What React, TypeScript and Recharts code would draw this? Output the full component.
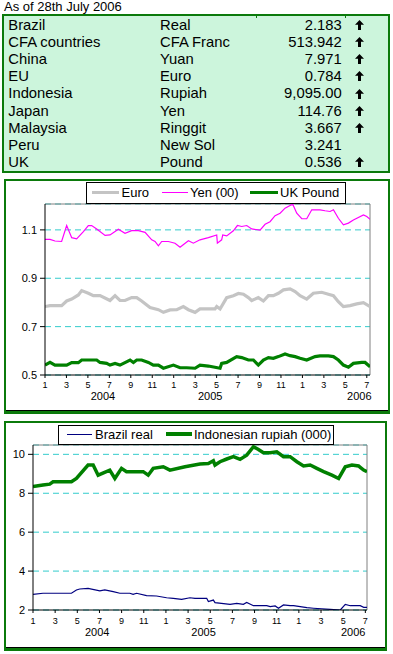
import React from 'react';
import { LineChart, Line, XAxis, YAxis, CartesianGrid, ReferenceLine } from 'recharts';

const FONT = '"Liberation Sans", Arial, Helvetica, sans-serif';
const GREEN_BORDER = '#0b7a0b';

// ---- Table data ----
const tableCountries = ['Brazil', 'CFA countries', 'China', 'EU', 'Indonesia', 'Japan', 'Malaysia', 'Peru', 'UK'];
const tableCurrencies = ['Real', 'CFA Franc', 'Yuan', 'Euro', 'Rupiah', 'Yen', 'Ringgit', 'New Sol', 'Pound'];
const tableRates = ['2.183', '513.942', '7.971', '0.784', '9,095.00', '114.76', '3.667', '3.241', '0.536'];
const tableUp = [true, true, true, true, true, true, true, false, true];

// ---- Axis ticks ----
const monthTicks = [0, 2, 4, 6, 8, 10, 12, 14, 16, 18, 20, 22, 24, 26, 28, 30];
const monthTickLabels = ['1', '3', '5', '7', '9', '11', '1', '3', '5', '7', '9', '11', '1', '3', '5', '7'];
const yearLabels = ['2004', '2005', '2006'];
const yearTicksTop = [5.4, 15.4, 29.3];
const yearTicksBottom = [5.8, 15.4, 28.9];
const topYTicks = [0.5, 0.7, 0.9, 1.1];
const bottomYTicks = [2, 4, 6, 8, 10];

// ---- Top chart series (x = months since Jan 2004) ----
const euroMonths = [0, 0.47, 1.55, 2.02, 2.49, 3.11, 3.42, 4.04, 4.51, 5.13, 6.06, 6.53, 6.99, 7.46, 8.08, 8.55, 9.01, 9.79, 10.57, 11.04, 11.66, 12.28, 12.9, 13.37, 13.99, 14.45, 15.23, 15.85, 16.01, 16.32, 16.94, 17.56, 18.03, 18.5, 18.96, 19.27, 19.89, 20.36, 20.83, 21.29, 21.76, 22.23, 22.85, 23.32, 23.78, 24.4, 25.02, 25.8, 26.42, 26.89, 27.35, 27.82, 28.44, 29.06, 29.69, 30.31];
const euroValues = [0.783, 0.787, 0.787, 0.806, 0.814, 0.831, 0.849, 0.838, 0.828, 0.828, 0.808, 0.828, 0.808, 0.808, 0.82, 0.82, 0.806, 0.779, 0.77, 0.759, 0.769, 0.77, 0.783, 0.77, 0.759, 0.773, 0.773, 0.773, 0.783, 0.773, 0.82, 0.828, 0.837, 0.834, 0.82, 0.808, 0.82, 0.806, 0.828, 0.828, 0.838, 0.852, 0.856, 0.845, 0.828, 0.814, 0.838, 0.842, 0.834, 0.828, 0.803, 0.783, 0.787, 0.794, 0.799, 0.783];

const yenMonths = [0, 0.47, 0.93, 1.55, 2.02, 2.49, 2.95, 3.58, 4.04, 4.35, 4.82, 5.6, 6.06, 6.84, 7.46, 8.08, 8.7, 9.33, 9.95, 10.26, 10.57, 10.88, 11.5, 12.12, 12.59, 13.37, 13.83, 14.45, 15.23, 16.01, 16.07, 16.47, 16.57, 16.94, 17.56, 17.94, 18.34, 18.81, 19.27, 20.05, 20.52, 20.98, 21.45, 21.92, 22.38, 22.85, 23.1, 23.47, 23.94, 24.4, 24.87, 25.64, 26.11, 26.58, 26.89, 27.35, 27.82, 28.29, 28.75, 29.69, 30.0, 30.31];
const yenValues = [1.061, 1.061, 1.054, 1.052, 1.118, 1.068, 1.063, 1.093, 1.118, 1.118, 1.104, 1.077, 1.079, 1.103, 1.086, 1.097, 1.097, 1.09, 1.059, 1.052, 1.034, 1.052, 1.052, 1.045, 1.028, 1.055, 1.045, 1.059, 1.068, 1.079, 1.045, 1.059, 1.079, 1.075, 1.096, 1.118, 1.114, 1.118, 1.104, 1.099, 1.123, 1.134, 1.159, 1.169, 1.19, 1.201, 1.206, 1.169, 1.146, 1.146, 1.183, 1.183, 1.179, 1.176, 1.183, 1.148, 1.121, 1.128, 1.141, 1.162, 1.155, 1.144];

const poundMonths = [0, 0.47, 0.93, 2.02, 2.49, 3.11, 3.42, 4.35, 4.82, 5.13, 5.75, 6.06, 6.53, 6.99, 7.93, 8.24, 8.55, 9.01, 9.64, 10.1, 10.57, 11.04, 11.97, 12.59, 13.21, 13.99, 14.45, 15.23, 16.32, 16.47, 16.94, 17.87, 18.34, 18.96, 19.43, 19.89, 20.36, 20.83, 21.29, 21.76, 22.38, 22.85, 23.32, 23.78, 24.4, 25.18, 25.64, 26.42, 26.89, 27.35, 27.82, 28.29, 28.75, 29.53, 29.84, 30.31];
const poundValues = [0.541, 0.552, 0.541, 0.541, 0.551, 0.551, 0.562, 0.562, 0.562, 0.552, 0.548, 0.541, 0.548, 0.541, 0.562, 0.552, 0.562, 0.562, 0.552, 0.541, 0.541, 0.528, 0.541, 0.53, 0.53, 0.528, 0.541, 0.537, 0.528, 0.548, 0.552, 0.576, 0.572, 0.562, 0.562, 0.541, 0.562, 0.572, 0.569, 0.576, 0.587, 0.58, 0.576, 0.569, 0.562, 0.576, 0.579, 0.579, 0.576, 0.562, 0.541, 0.532, 0.548, 0.552, 0.552, 0.534];

// ---- Bottom chart series ----
const realMonths = [0, 0.9, 3.47, 3.92, 4.22, 4.97, 6.03, 6.48, 7.24, 7.84, 8.74, 9.04, 9.35, 10.25, 11.15, 12.06, 12.66, 13.42, 14.17, 14.62, 15.68, 15.83, 16.28, 16.43, 17.79, 18.39, 18.99, 19.29, 19.9, 20.5, 21.1, 21.41, 21.86, 22.16, 22.61, 23.21, 23.52, 24.12, 24.72, 25.32, 26.83, 27.74, 28.19, 28.64, 29.54, 29.85, 30.15];
const realValues = [2.8, 2.86, 2.86, 3.03, 3.08, 3.11, 2.98, 3.03, 2.94, 2.86, 2.86, 2.8, 2.86, 2.74, 2.72, 2.63, 2.6, 2.55, 2.63, 2.6, 2.6, 2.43, 2.51, 2.38, 2.29, 2.34, 2.29, 2.39, 2.22, 2.22, 2.22, 2.17, 2.21, 2.09, 2.26, 2.22, 2.22, 2.17, 2.12, 2.09, 2.03, 2.0, 2.29, 2.22, 2.22, 2.14, 2.14];

const rupiahMonths = [0, 0.9, 1.51, 1.81, 3.47, 3.92, 4.97, 5.43, 5.88, 6.93, 7.39, 7.99, 8.44, 9.95, 10.4, 10.85, 11.76, 12.36, 13.72, 15.07, 15.83, 16.28, 16.43, 16.88, 17.49, 18.09, 18.69, 19.29, 19.9, 20.35, 20.8, 21.41, 22.01, 22.61, 23.21, 23.82, 24.42, 25.02, 25.62, 26.23, 26.98, 27.59, 28.19, 28.79, 29.39, 29.54, 29.85, 30.15];
const rupiahValues = [8.34, 8.42, 8.47, 8.59, 8.59, 8.76, 9.45, 9.45, 8.93, 9.19, 8.76, 9.28, 9.11, 9.11, 8.93, 9.28, 9.36, 9.19, 9.36, 9.5, 9.53, 9.67, 9.45, 9.62, 9.76, 9.88, 9.74, 9.96, 10.39, 10.25, 10.08, 10.08, 10.13, 9.88, 9.88, 9.62, 9.4, 9.45, 9.28, 9.11, 8.93, 8.76, 9.36, 9.45, 9.4, 9.33, 9.19, 9.11];

const toPoints = (ms: number[], vs: number[]) => ms.map((m, i) => ({ m, v: vs[i] }));

const monthFmt = (v: number) => monthTickLabels[monthTicks.indexOf(v)] ?? '';

const Arrow = ({ top }: { top: number }) => (
  <svg style={{ position: 'absolute', left: 355, top, width: 9, height: 10 }} width={9} height={10}>
    <polygon points="4.5,0 9,4.8 6,4.8 6,10 3,10 3,4.8 0,4.8" fill="#000" />
  </svg>
);

const Table = () => (
  <>
    <div style={{ position: 'absolute', left: 4, top: 0, fontSize: 13, lineHeight: '13px', color: '#000', whiteSpace: 'nowrap' }}>
      As of 28th July 2006
    </div>
    <div
      style={{
        position: 'absolute', left: 2, top: 14, width: 388, height: 159, boxSizing: 'border-box',
        border: `2px solid ${GREEN_BORDER}`, background: '#CCF5DC',
      }}
    />
    <div style={{ position: 'absolute', left: 256, top: 16, width: 1, height: 2, background: GREEN_BORDER }} />
    <div style={{ position: 'absolute', left: 345, top: 16, width: 1, height: 2, background: GREEN_BORDER }} />
    {tableCountries.map((c, i) => {
      const top = 16.5 + 17.2 * i;
      const st: React.CSSProperties = { position: 'absolute', top, fontSize: 14.8, lineHeight: '17.2px', color: '#000', whiteSpace: 'nowrap' };
      return (
        <React.Fragment key={c}>
          <div style={{ ...st, left: 8.3 }}>{c}</div>
          <div style={{ ...st, left: 160 }}>{tableCurrencies[i]}</div>
          <div style={{ ...st, right: 393 - 341.7, textAlign: 'right' }}>{tableRates[i]}</div>
          {tableUp[i] && <Arrow top={top + 3.3} />}
        </React.Fragment>
      );
    })}
  </>
);

const Box = ({ left, top, width, height }: { left: number; top: number; width: number; height: number }) => (
  <div
    style={{
      position: 'absolute', left, top, width, height, boxSizing: 'border-box',
      border: `2px solid ${GREEN_BORDER}`, borderBottom: `3px solid ${GREEN_BORDER}`,
      boxShadow: 'inset 0 -1px 0 #000',
    }}
  />
);

const LegendLine = ({ left, top, width, color, thick }: { left: number; top: number; width: number; color: string; thick: number }) => (
  <div style={{ position: 'absolute', left, top: top - thick / 2, width, height: thick, background: color }} />
);

const LegendText = ({ left, top, text }: { left: number; top: number; text: string }) => (
  <div style={{ position: 'absolute', left, top, fontSize: 13, lineHeight: '15px', whiteSpace: 'nowrap', color: '#000' }}>{text}</div>
);

const TopChart = () => {
  const xMax = 30.3;
  const yMax = 1.207;
  return (
    <div style={{ position: 'absolute', left: 0, top: 179, width: 393, height: 232 }}>
      <LineChart width={393} height={232} margin={{ top: 25, right: 23, bottom: 0, left: 0 }}>
        <CartesianGrid vertical={false} stroke="#33CCCC" strokeDasharray="6 4" />
        <XAxis
          dataKey="m" type="number" domain={[0, xMax]} ticks={monthTicks} interval={0} allowDataOverflow
          tickFormatter={monthFmt} height={14} tickSize={3} tickMargin={4}
          axisLine={{ stroke: '#000' }} tickLine={{ stroke: '#000' }} tick={{ fontSize: 9, fill: '#000' }}
        />
        <XAxis
          xAxisId="year" dataKey="m" type="number" domain={[0, xMax]} ticks={yearTicksTop} interval={0} allowDataOverflow
          tickFormatter={(v: number) => yearLabels[yearTicksTop.indexOf(v)] ?? ''} height={22} tickSize={0} tickMargin={3}
          axisLine={false} tickLine={false} tick={{ fontSize: 11, fill: '#000' }}
        />
        <YAxis
          type="number" domain={[0.5, yMax]} ticks={topYTicks} interval={0} allowDataOverflow width={45}
          tickFormatter={(v: number) => v.toFixed(1)} tickSize={5} tickMargin={3}
          axisLine={{ stroke: '#000' }} tickLine={{ stroke: '#000' }} tick={{ fontSize: 11, fill: '#000' }}
        />
        <ReferenceLine y={yMax} stroke="#808080" strokeWidth={1} />
        <ReferenceLine x={xMax} stroke="#808080" strokeWidth={1} />
        <Line data={toPoints(euroMonths, euroValues)} dataKey="v" type="linear" stroke="#C4C4C4" strokeWidth={3.2} dot={false} isAnimationActive={false} />
        <Line data={toPoints(yenMonths, yenValues)} dataKey="v" type="linear" stroke="#FF00FF" strokeWidth={1.2} dot={false} isAnimationActive={false} />
        <Line data={toPoints(poundMonths, poundValues)} dataKey="v" type="linear" stroke="#008000" strokeWidth={3.2} dot={false} isAnimationActive={false} />
      </LineChart>
    </div>
  );
};

const BottomChart = () => {
  const xMax = 30.15;
  const yMax = 10.48;
  return (
    <div style={{ position: 'absolute', left: 0, top: 421, width: 393, height: 226 }}>
      <LineChart width={393} height={226} margin={{ top: 24, right: 26, bottom: 0, left: 0 }}>
        <CartesianGrid vertical={false} stroke="#33CCCC" strokeDasharray="6 4" />
        <XAxis
          dataKey="m" type="number" domain={[0, xMax]} ticks={monthTicks} interval={0} allowDataOverflow
          tickFormatter={monthFmt} height={12} tickSize={3} tickMargin={5}
          axisLine={{ stroke: '#000' }} tickLine={{ stroke: '#000' }} tick={{ fontSize: 9, fill: '#000' }}
        />
        <XAxis
          xAxisId="year" dataKey="m" type="number" domain={[0, xMax]} ticks={yearTicksBottom} interval={0} allowDataOverflow
          tickFormatter={(v: number) => yearLabels[yearTicksBottom.indexOf(v)] ?? ''} height={25} tickSize={0} tickMargin={6}
          axisLine={false} tickLine={false} tick={{ fontSize: 11, fill: '#000' }}
        />
        <YAxis
          type="number" domain={[2, yMax]} ticks={bottomYTicks} interval={0} allowDataOverflow width={33}
          tickSize={5} tickMargin={3}
          axisLine={{ stroke: '#000' }} tickLine={{ stroke: '#000' }} tick={{ fontSize: 11, fill: '#000' }}
        />
        <ReferenceLine y={yMax} stroke="#808080" strokeWidth={1} />
        <ReferenceLine x={xMax} stroke="#808080" strokeWidth={1} />
        <Line data={toPoints(realMonths, realValues)} dataKey="v" type="linear" stroke="#000080" strokeWidth={1.2} dot={false} isAnimationActive={false} />
        <Line data={toPoints(rupiahMonths, rupiahValues)} dataKey="v" type="linear" stroke="#008000" strokeWidth={3.5} dot={false} isAnimationActive={false} />
      </LineChart>
    </div>
  );
};

export default function App() {
  return (
    <div style={{ position: 'absolute', left: 0, top: 0, width: 393, height: 654, background: '#fff', fontFamily: FONT, overflow: 'hidden' }}>
      <Table />
      <Box left={4} top={179} width={386} height={235} />
      <Box left={4} top={421} width={383} height={230} />
      <TopChart />
      <BottomChart />

      {/* Top legend */}
      <div style={{ position: 'absolute', left: 86, top: 182, width: 260, height: 22, boxSizing: 'border-box', border: '1px solid #000', background: '#fff' }} />
      <LegendLine left={92} top={192.5} width={27} color="#C4C4C4" thick={3} />
      <LegendText left={121.5} top={185} text="Euro" />
      <LegendLine left={162} top={192.5} width={26} color="#FF00FF" thick={1} />
      <LegendText left={190} top={185} text="Yen (00)" />
      <LegendLine left={250} top={192.5} width={28} color="#008000" thick={3} />
      <LegendText left={280} top={185} text="UK Pound" />

      {/* Bottom legend */}
      <div style={{ position: 'absolute', left: 58, top: 425, width: 276, height: 20, boxSizing: 'border-box', border: '1px solid #000', background: '#fff' }} />
      <LegendLine left={66.5} top={434} width={25} color="#000080" thick={1} />
      <LegendText left={95} top={426.5} text="Brazil real" />
      <LegendLine left={165.5} top={434} width={26} color="#008000" thick={3.5} />
      <LegendText left={194} top={426.5} text="Indonesian rupiah (000)" />
    </div>
  );
}
